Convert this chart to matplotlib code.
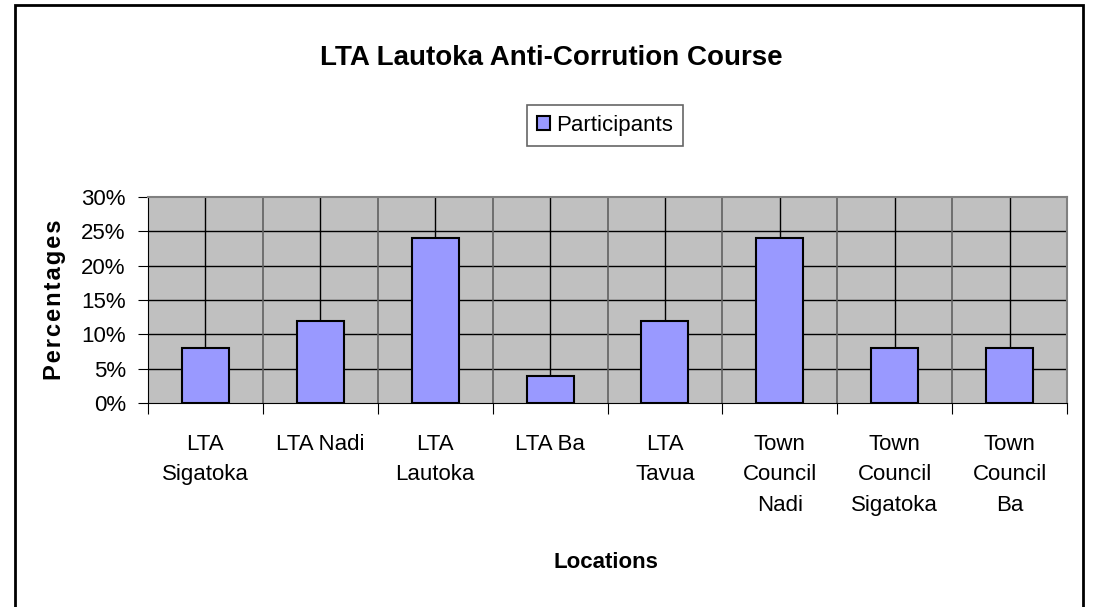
import matplotlib.pyplot as plt
from matplotlib.patches import Rectangle
from matplotlib.ticker import FuncFormatter

locations = ['LTA\nSigatoka', 'LTA Nadi', 'LTA\nLautoka', 'LTA Ba', 'LTA\nTavua',
             'Town\nCouncil\nNadi', 'Town\nCouncil\nSigatoka', 'Town\nCouncil\nBa']
participants = [8, 12, 24, 4, 12, 24, 8, 8]
yticks = [0, 5, 10, 15, 20, 25, 30]

plt.rcParams['font.family'] = ['Liberation Sans', 'DejaVu Sans']

W, H = 1097, 607
fig = plt.figure(figsize=(W / 100, H / 100), dpi=100)

# outer chart border (open at the bottom, like the reference crop)
fig.patches.append(Rectangle((15 / W, -0.01), 1068 / W, 1 - 5 / H + 0.01,
                             transform=fig.transFigure, fill=False,
                             edgecolor='black', linewidth=2))

ax = fig.add_axes([148 / W, 1 - 403 / H, 919 / W, 206 / H])
ax.set_facecolor('#c0c0c0')

n = len(locations)
x = list(range(n))
ax.bar(x, participants, width=0.41, color='#9999ff', edgecolor='black',
       linewidth=1.5, zorder=3, label='Participants')

ax.set_xlim(-0.5, n - 0.5)
ax.set_ylim(0, 30)
ax.set_yticks(yticks)
ax.yaxis.set_major_formatter(FuncFormatter(lambda v, p: '%d%%' % v))

# grid: horizontal black, vertical black at centers, gray at boundaries
for yv in yticks[1:-1]:
    ax.axhline(yv, color='black', linewidth=1, zorder=1)
for xv in x:
    ax.axvline(xv, color='black', linewidth=1, zorder=1)
for i in range(1, n):
    ax.axvline(i - 0.5, color='#606060', linewidth=1.2, zorder=1)

for s in ['top', 'right']:
    ax.spines[s].set_color('#808080')
    ax.spines[s].set_linewidth(1.5)
ax.spines['left'].set_color('black')
ax.spines['bottom'].set_color('black')

ax.set_xticks([i - 0.5 for i in range(n + 1)])
ax.set_xticklabels([])
ax.set_xticks(x, minor=True)
ax.set_xticklabels(locations, minor=True, fontsize=16, va='top',
                   linespacing=1.62)
ax.tick_params(axis='x', which='minor', length=0, pad=22)
ax.tick_params(axis='x', which='major', length=8, direction='out')
ax.tick_params(axis='y', length=7, labelsize=16, pad=9)

fig.text(551 / W, 1 - 58 / H, 'LTA Lautoka Anti-Corrution Course',
         fontsize=20, fontweight='bold', ha='center', va='center')
fig.text(55 / W, 1 - 300 / H, '\u200a'.join('Percentages'), fontsize=17,
         fontweight='bold', rotation=90, ha='center', va='center')
fig.text(606 / W, 1 - 562 / H, 'Locations', fontsize=16,
         fontweight='bold', ha='center', va='center')

leg = ax.legend(loc='center', bbox_to_anchor=(605 / W, 1 - 125 / H),
                bbox_transform=fig.transFigure, fontsize=16, frameon=True,
                fancybox=False, handlelength=0.6, handleheight=0.6,
                handletextpad=0.3, borderpad=0.45, borderaxespad=0)
leg.get_frame().set_edgecolor('#404040')
leg.get_frame().set_linewidth(1.2)

fig.savefig('out.png', dpi=100)
